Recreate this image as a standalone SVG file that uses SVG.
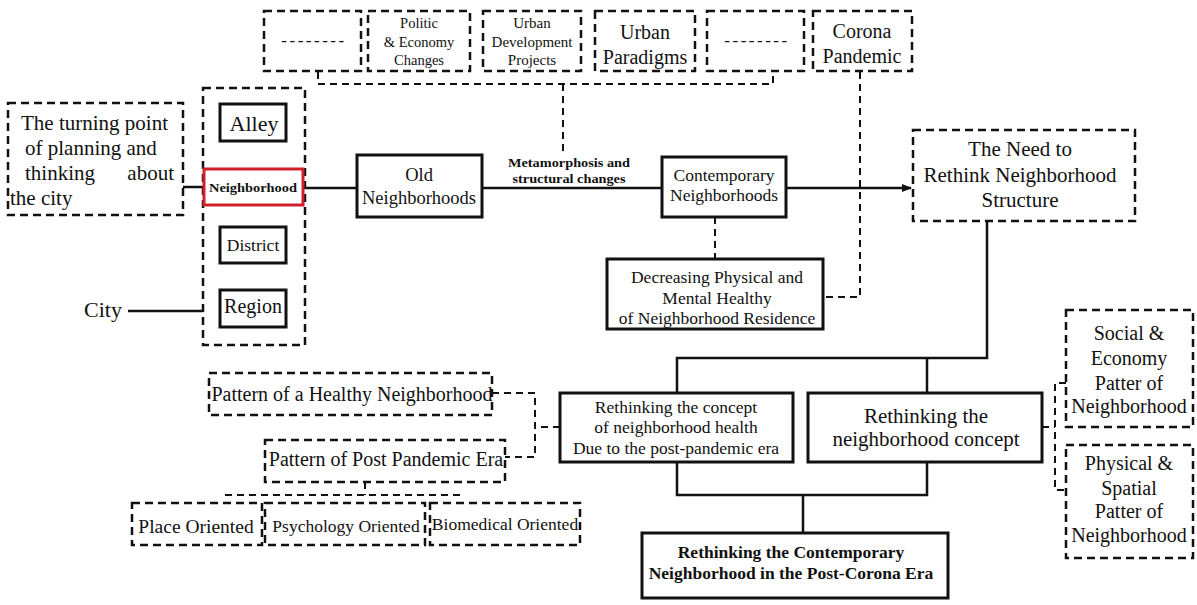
<svg xmlns="http://www.w3.org/2000/svg" width="1197" height="605" viewBox="0 0 1197 605">
<style>
text{font-family:"Liberation Serif","Times New Roman",serif;fill:#111;text-anchor:middle;dominant-baseline:central}
.s{fill:none;stroke:#111;stroke-width:3}
.d{fill:none;stroke:#111;stroke-width:2.5;stroke-dasharray:8 5}
.ln{fill:none;stroke:#111;stroke-width:2.5}
.dl{fill:none;stroke:#111;stroke-width:2;stroke-dasharray:7 5}
.b{font-weight:bold}
.dash{letter-spacing:2.5px}
</style>
<defs>
<marker id="ah" markerWidth="10" markerHeight="8" refX="9" refY="4" orient="auto" markerUnits="userSpaceOnUse">
<path d="M0,0 L10,4 L0,8 Z" fill="#111"/>
</marker>
</defs>
<rect width="1197" height="605" fill="#fff"/>

<g id="connectors">
<path class="dl" d="M318,72 V84 H773 V72"/>
<path class="dl" d="M563,84 V152"/>
<path class="dl" d="M860,72 V297 H823"/>
<path class="dl" d="M715,217 V259"/>
<path class="ln" d="M183,187 H205"/>
<path class="ln" d="M128,311 H203"/>
<path class="ln" d="M303,188 H357"/>
<path class="ln" d="M482,188 H662"/>
<path class="ln" d="M786,188 H911" marker-end="url(#ah)"/>
<path class="ln" d="M987,221 V358 H677 V393"/>
<path class="ln" d="M927,358 V393"/>
<path class="ln" d="M677,462 V495 H927 V462"/>
<path class="ln" d="M803,495 V533"/>
<path class="dl" d="M560,427 H535"/>
<path class="dl" d="M492,393 H535 V457 H505"/>
<path class="dl" d="M365,482 V495"/>
<path class="dl" d="M225,495 H465"/>
<path class="dl" d="M1042,427 H1055"/>
<path class="dl" d="M1066,383 H1055 V490 H1066"/>
</g>

<g id="top1"><rect class="d" x="264" y="11" width="97" height="60"/><text class="dash" x="314" y="40" font-size="17">--------</text></g>
<g id="top2"><rect class="d" x="368" y="11" width="102" height="60"/>
<text x="419" y="23" font-size="14.5">Politic</text><text x="419" y="42" font-size="14.5">&amp; Economy</text><text x="419" y="60" font-size="14.5">Changes</text></g>
<g id="top3"><rect class="d" x="483" y="11" width="98" height="60"/>
<text x="532" y="23" font-size="15">Urban</text><text x="532" y="42" font-size="15">Development</text><text x="532" y="60" font-size="15">Projects</text></g>
<g id="top4"><rect class="d" x="595" y="11" width="100" height="60"/>
<text x="645" y="32" font-size="20">Urban</text><text x="645" y="57" font-size="20">Paradigms</text></g>
<g id="top5"><rect class="d" x="707" y="11" width="97" height="60"/><text class="dash" x="757" y="40" font-size="17">--------</text></g>
<g id="top6"><rect class="d" x="813" y="11" width="99" height="60"/>
<text x="862" y="31" font-size="20">Corona</text><text x="862" y="56" font-size="20">Pandemic</text></g>

<g id="turning"><rect class="d" x="8" y="103" width="175" height="112"/>
<text x="21" y="123" font-size="21" style="text-anchor:start">The turning point</text>
<text x="25" y="148" font-size="21" style="text-anchor:start">of planning and</text>
<text x="25" y="173" font-size="21" style="text-anchor:start">thinking</text>
<text x="174" y="173" font-size="21" style="text-anchor:end">about</text>
<text x="10" y="198" font-size="21" style="text-anchor:start">the city</text></g>

<g id="scales"><rect class="d" x="203" y="88" width="102" height="257"/></g>
<g id="alley"><rect class="s" x="220" y="104" width="66" height="37"/><text x="254" y="123" font-size="22">Alley</text></g>
<g id="neighborhood"><rect fill="#fff" stroke="#d0202a" stroke-width="3" x="204" y="169" width="99" height="36"/><text class="b" x="253" y="187" font-size="13" textLength="88" lengthAdjust="spacingAndGlyphs">Neighborhood</text></g>
<g id="district"><rect class="s" x="220" y="227" width="66" height="36"/><text x="253" y="245" font-size="17.5">District</text></g>
<g id="region"><rect class="s" x="220" y="290" width="66" height="37"/><text x="253" y="306" font-size="20">Region</text></g>
<g id="city"><text x="103" y="309" font-size="22">City</text></g>

<g id="old"><rect class="s" x="357" y="155" width="125" height="62"/>
<text x="419" y="175" font-size="18.5">Old</text><text x="419" y="198" font-size="18.5">Neighborhoods</text></g>
<g id="meta"><text class="b" x="569" y="162" font-size="13.5" textLength="122" lengthAdjust="spacingAndGlyphs">Metamorphosis and</text><text class="b" x="569" y="178" font-size="13.5" textLength="113" lengthAdjust="spacingAndGlyphs">structural changes</text></g>
<g id="contemporary"><rect class="s" x="662" y="157" width="124" height="60"/>
<text x="724" y="175" font-size="17.5">Contemporary</text><text x="724" y="195" font-size="17.5">Neighborhoods</text></g>
<g id="decreasing"><rect class="s" x="607" y="259" width="216" height="70"/>
<text x="717" y="277" font-size="17.5">Decreasing Physical and</text><text x="717" y="298" font-size="17.5">Mental Healthy</text><text x="717" y="318" font-size="17.5">of Neighborhood Residence</text></g>
<g id="need"><rect class="d" x="913" y="130" width="222" height="91"/>
<text x="1020" y="149" font-size="21">The Need to</text><text x="1020" y="175" font-size="21">Rethink Neighborhood</text><text x="1020" y="200" font-size="21">Structure</text></g>

<g id="health"><rect class="s" x="560" y="393" width="233" height="69"/>
<text x="676" y="407" font-size="17.5">Rethinking the concept</text><text x="676" y="427" font-size="17.5">of neighborhood health</text><text x="676" y="448" font-size="17.5">Due to the post-pandemic era</text></g>
<g id="concept"><rect class="s" x="808" y="393" width="234" height="69"/>
<text x="926" y="416" font-size="21">Rethinking the</text><text x="926" y="439" font-size="21">neighborhood concept</text></g>
<g id="final"><rect class="s" x="642" y="533" width="306" height="65"/>
<text class="b" x="791" y="552" font-size="17.5">Rethinking the Contemporary</text><text class="b" x="791" y="573" font-size="17.5">Neighborhood in the Post-Corona Era</text></g>

<g id="pHealthy"><rect class="d" x="209" y="373" width="283" height="42"/><text x="352" y="394" font-size="20">Pattern of a Healthy Neighborhood</text></g>
<g id="pPost"><rect class="d" x="265" y="440" width="240" height="42"/><text x="386" y="459" font-size="20">Pattern of Post Pandemic Era</text></g>
<g id="place"><rect class="d" x="132" y="503" width="130" height="42"/><text x="196" y="526" font-size="19.5">Place Oriented</text></g>
<g id="psych"><rect class="d" x="265" y="503" width="160" height="42"/><text x="346" y="526" font-size="17.5">Psychology Oriented</text></g>
<g id="bio"><rect class="d" x="430" y="503" width="150" height="42"/><text x="505" y="524" font-size="17.5">Biomedical Oriented</text></g>

<g id="social"><rect class="d" x="1066" y="310" width="127" height="117"/>
<text x="1129" y="333" font-size="20">Social &amp;</text><text x="1129" y="358" font-size="20">Economy</text><text x="1129" y="383" font-size="20">Patter of</text><text x="1129" y="406" font-size="20">Neighborhood</text></g>
<g id="physical"><rect class="d" x="1066" y="445" width="127" height="113"/>
<text x="1129" y="463" font-size="20">Physical &amp;</text><text x="1129" y="488" font-size="20">Spatial</text><text x="1129" y="511" font-size="20">Patter of</text><text x="1129" y="535" font-size="20">Neighborhood</text></g>
</svg>
